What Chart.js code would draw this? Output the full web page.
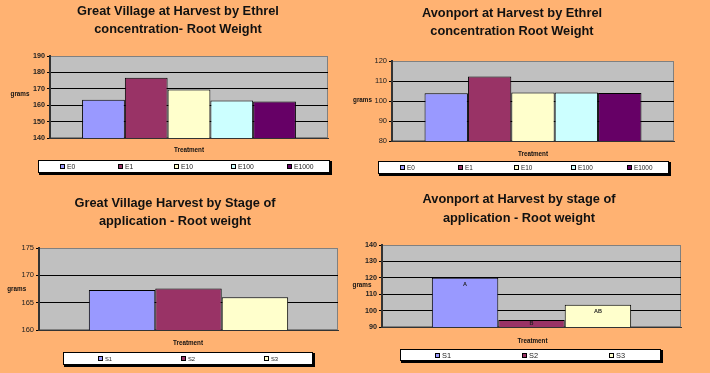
<!DOCTYPE html>
<html>
<head>
<meta charset="utf-8">
<script src="https://cdn.jsdelivr.net/npm/chart.js@4/dist/chart.umd.min.js"></script>
<style>
  html, body { margin: 0; padding: 0; }
  body { width: 710px; height: 373px; background: #FFB272; position: relative; overflow: hidden; }
  canvas { position: absolute; }
</style>
</head>
<body>
<canvas id="gvConc"></canvas>
<canvas id="avConc"></canvas>
<canvas id="gvStage"></canvas>
<canvas id="avStage"></canvas>
<script>
// Treatments
const concCategories = ['E0', 'E1', 'E10', 'E100', 'E1000'];
const stageCategories = ['S1', 'S2', 'S3'];

// Root weight at harvest (grams)
const gvConcGrams = [163.3, 176.8, 169.6, 162.8, 162.2];
const avConcGrams = [103.9, 112.3, 104.3, 104.3, 104.0];
const gvStageGrams = [167.3, 167.6, 166.0];
const avStageGrams = [120.0, 94.2, 103.5];
const avStageLetters = ['A', 'B', 'AB'];

// Value axis ticks
const gvConcTicks = [140, 150, 160, 170, 180, 190];
const avConcTicks = [80, 90, 100, 110, 120];
const gvStageTicks = [160, 165, 170, 175];
const avStageTicks = [90, 100, 110, 120, 130, 140];

const seriesColors = ['#9999FF', '#993366', '#FFFFCC', '#CCFFFF', '#660066'];
const FONT = '"Liberation Sans", Arial, sans-serif';
const Y_W = 30;

function build(id, o) {
  const cv = document.getElementById(id);
  cv.width = o.box.w; cv.height = o.box.h;
  cv.style.left = o.box.x + 'px'; cv.style.top = o.box.y + 'px';
  const L = x => x - o.box.x, T = y => y - o.box.y;
  const n = o.cats.length;
  const tks = o.ticks;
  const tmin = tks[0], tmax = tks[tks.length - 1];

  const deco = {
    id: 'deco',
    beforeDraw(chart) {
      const a = chart.chartArea, c = chart.ctx;
      c.save();
      c.fillStyle = '#C0C0C0';
      c.fillRect(a.left, a.top, a.right - a.left, a.bottom - a.top);
      c.strokeStyle = '#808080'; c.lineWidth = 1;
      c.strokeRect(a.left + 0.5, a.top + 0.5, a.right - a.left - 1, a.bottom - a.top - 1);
      c.restore();
    },
    afterDatasetsDraw(chart) {
      if (!o.letters) return;
      const c = chart.ctx;
      c.save();
      c.fillStyle = '#222'; c.textAlign = 'center'; c.textBaseline = 'middle';
      c.font = 'bold 5.5px ' + FONT;
      o.letters.forEach((t, i) => {
        const bar = chart.getDatasetMeta(i).data[0];
        const base = Math.min(bar.base, chart.chartArea.bottom);
        const y = Math.min(bar.y + 7, (bar.y + base) / 2);
        c.fillText(t, bar.x, y);
      });
      c.restore();
    },
    afterDraw(chart) {
      const c = chart.ctx;
      c.save();
      c.fillStyle = '#111'; c.textAlign = 'center'; c.textBaseline = 'alphabetic';
      c.font = 'bold 12.8px ' + FONT;
      o.title.forEach((t, i) => c.fillText(t, L(o.titleX), T(o.titleY[i])));

      c.font = 'bold 6.3px ' + FONT; c.textBaseline = 'middle';
      c.fillText('grams', L(o.grams[0]), T(o.grams[1]));
      c.fillText('Treatment', L(o.treat[0]), T(o.treat[1]));

      // legend box
      const lb = o.legend;
      const x0 = L(lb.x), y0 = T(lb.y), w = lb.w, h = lb.h;
      c.fillStyle = '#000';
      c.fillRect(x0 + 1, y0 + 1, w + 1, h + 1);
      c.fillStyle = '#fff';
      c.fillRect(x0, y0, w, h);
      c.strokeStyle = '#000'; c.lineWidth = 1;
      c.strokeRect(x0 + 0.5, y0 + 0.5, w - 1, h - 1);
      c.font = lb.font + 'px ' + FONT;
      c.textAlign = 'left'; c.textBaseline = 'middle';
      const slot = w / n, cy = y0 + h / 2;
      chart.data.datasets.forEach((ds, i) => {
        const tw = c.measureText(ds.label).width;
        const iw = 5 + 2 + tw;
        const sx = Math.round(x0 + slot * (i + 0.5) - iw / 2);
        c.fillStyle = ds.backgroundColor;
        c.fillRect(sx, Math.round(cy - 2.5), 5, 5);
        c.strokeStyle = '#000';
        c.strokeRect(sx + 0.5, Math.round(cy - 2.5) + 0.5, 4, 4);
        c.fillStyle = '#222';
        c.fillText(ds.label, sx + 7, cy + 0.5);
      });
      c.restore();
    }
  };

  return new Chart(cv, {
    type: 'bar',
    data: {
      labels: ['Treatment'],
      datasets: o.cats.map((cat, i) => ({
        label: cat,
        data: [o.values[i]],
        backgroundColor: seriesColors[i],
        borderColor: '#000',
        borderWidth: 1,
        borderSkipped: false,
        categoryPercentage: n / (n + 1.5),
        barPercentage: 1
      }))
    },
    options: {
      responsive: false,
      animation: false,
      devicePixelRatio: 1,
      layout: {
        padding: {
          left: L(o.area.l) - Y_W,
          top: T(o.area.t),
          right: o.box.w - L(o.area.r),
          bottom: o.box.h - T(o.area.b)
        }
      },
      plugins: { legend: { display: false }, title: { display: false }, tooltip: { enabled: false } },
      scales: {
        x: {
          ticks: { display: false },
          grid: { display: false },
          border: { color: '#333', width: 1 },
          afterFit(s) { s.height = 0; }
        },
        y: {
          min: tmin, max: tmax,
          afterBuildTicks(s) { s.ticks = tks.map(v => ({ value: v })); },
          afterFit(s) { s.width = Y_W; },
          ticks: { font: { family: FONT, size: o.tickFont.size, weight: o.tickFont.weight }, color: '#222', padding: 2 },
          grid: {
            color: c => (c.tick && c.tick.value === tmax) ? 'rgba(0,0,0,0)' : '#000',
            tickColor: '#000', tickLength: 3, lineWidth: 1
          },
          border: { color: '#333', width: 2 }
        }
      }
    },
    plugins: [deco]
  });
}

build('gvConc', {
  box: { x: 0, y: 0, w: 350, h: 186 },
  area: { l: 50, t: 56, r: 328, b: 138 },
  title: ['Great Village at Harvest by Ethrel', 'concentration- Root Weight'],
  titleX: 178, titleY: [15, 32.5],
  cats: concCategories, values: gvConcGrams, ticks: gvConcTicks,
  tickFont: { size: 7.2, weight: 'bold' },
  grams: [20, 94], treat: [189, 150],
  legend: { x: 38, y: 160, w: 292, h: 13, font: 6.8 }
});

build('avConc', {
  box: { x: 348, y: 0, w: 362, h: 186 },
  area: { l: 392, t: 61, r: 674, b: 141 },
  title: ['Avonport at Harvest by Ethrel', 'concentration Root Weight'],
  titleX: 512, titleY: [17.3, 35],
  cats: concCategories, values: avConcGrams, ticks: avConcTicks,
  tickFont: { size: 7.5, weight: 'normal' },
  grams: [362.5, 100.3], treat: [533, 154.5],
  legend: { x: 378, y: 161, w: 291, h: 13, font: 6.4 }
});

build('gvStage', {
  box: { x: 0, y: 186, w: 350, h: 187 },
  area: { l: 39, t: 248, r: 338, b: 330 },
  title: ['Great Village Harvest by Stage of', 'application - Root weight'],
  titleX: 175, titleY: [207, 225],
  cats: stageCategories, values: gvStageGrams, ticks: gvStageTicks,
  tickFont: { size: 7.5, weight: 'normal' },
  grams: [16.7, 289.3], treat: [188, 343.7],
  legend: { x: 63, y: 352, w: 250, h: 13, font: 5.8 }
});

build('avStage', {
  box: { x: 348, y: 186, w: 362, h: 187 },
  area: { l: 382, t: 245, r: 681, b: 327 },
  title: ['Avonport at Harvest by stage of', 'application - Root weight'],
  titleX: 519, titleY: [203.3, 222],
  cats: stageCategories, values: avStageGrams, ticks: avStageTicks,
  tickFont: { size: 7.2, weight: 'bold' },
  grams: [362, 285.3], treat: [532.5, 341],
  legend: { x: 400, y: 349, w: 261, h: 12, font: 7.4 },
  letters: avStageLetters
});
</script>
</body>
</html>
